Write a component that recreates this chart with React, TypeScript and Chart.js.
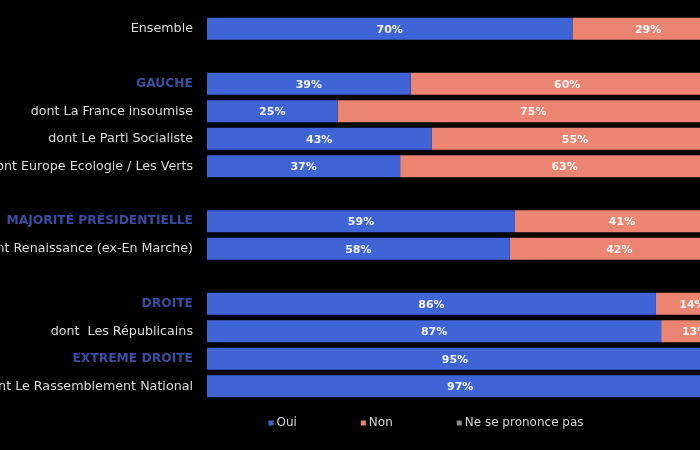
import React, { useEffect, useRef } from "react";
import { Chart, registerables } from "chart.js";

Chart.register(...registerables);

const categories = [
  "Ensemble",
  "",
  "GAUCHE",
  "dont La France insoumise",
  "dont Le Parti Socialiste",
  "dont Europe Ecologie / Les Verts",
  "",
  "MAJORITÉ PRÉSIDENTIELLE",
  "dont Renaissance (ex-En Marche)",
  "",
  "DROITE",
  "dont  Les Républicains",
  "EXTREME DROITE",
  "dont Le Rassemblement National",
];
const headerRows = ["GAUCHE", "MAJORITÉ PRÉSIDENTIELLE", "DROITE", "EXTREME DROITE"];

const oui = [70, null, 39, 25, 43, 37, null, 59, 58, null, 86, 87, 95, 97];
const non = [29, null, 60, 75, 55, 63, null, 41, 42, null, 14, 13, 5, 3];
const nsp = [1, null, 1, 0, 2, 0, null, 0, 0, null, 0, 0, 0, 0];

const seriesNames = ["Oui", "Non", "Ne se prononce pas"];
const seriesColors = ["#3f64d6", "#ec8472", "#8a8a8a"];

const FONT = '"DejaVu Sans", "Noto Sans", sans-serif';

const bgPlugin = {
  id: "bg",
  beforeDraw(chart: any) {
    const ctx = chart.ctx;
    ctx.save();
    ctx.fillStyle = "#000";
    ctx.fillRect(0, 0, chart.width, chart.height);
    ctx.restore();
  },
};

const valueLabels = {
  id: "valueLabels",
  afterDatasetsDraw(chart: any) {
    const ctx = chart.ctx;
    ctx.save();
    ctx.font = `bold 11px ${FONT}`;
    ctx.fillStyle = "#f4f4f4";
    ctx.textAlign = "center";
    ctx.textBaseline = "middle";
    chart.data.datasets.forEach((ds: any, di: number) => {
      const meta = chart.getDatasetMeta(di);
      meta.data.forEach((el: any, i: number) => {
        const v = ds.data[i];
        if (v == null || v < 3) return;
        const { x, y, base } = el.getProps(["x", "y", "base"], true);
        ctx.fillText(`${v}%`, (x + base) / 2, y + 1);
      });
    });
    ctx.restore();
  },
};

const LEGEND_CENTER_X = 426;
const LEGEND_Y = 423;

const customLegend = {
  id: "customLegend",
  afterDraw(chart: any) {
    const ctx = chart.ctx;
    ctx.save();
    ctx.font = `12px ${FONT}`;
    ctx.textBaseline = "middle";
    const box = 5;
    const gapText = 3;
    const gapItems = 64;
    const items = chart.data.datasets.map((ds: any) => ({ text: ds.label, color: ds.backgroundColor }));
    const widths = items.map((it: any) => box + gapText + ctx.measureText(it.text).width);
    const total = widths.reduce((a: number, b: number) => a + b, 0) + gapItems * (items.length - 1);
    let x = LEGEND_CENTER_X - total / 2;
    items.forEach((it: any, i: number) => {
      ctx.fillStyle = it.color;
      ctx.fillRect(x, LEGEND_Y - box / 2, box, box);
      ctx.fillStyle = "#d6d6d6";
      ctx.fillText(it.text, x + box + gapText, LEGEND_Y);
      x += widths[i] + gapItems;
    });
    ctx.restore();
  },
};

export default function App() {
  const ref = useRef<HTMLCanvasElement | null>(null);

  useEffect(() => {
    if (!ref.current) return;
    const chart = new Chart(ref.current, {
      type: "bar",
      data: {
        labels: categories,
        datasets: [oui, non, nsp].map((d, i) => ({
          label: seriesNames[i],
          data: d,
          backgroundColor: seriesColors[i],
          borderWidth: 0,
          categoryPercentage: 0.9,
          barPercentage: 0.89,
        })),
      },
      options: {
        indexAxis: "y",
        responsive: false,
        animation: false,
        layout: { padding: { left: 0, right: 31, top: 15, bottom: 50 } },
        plugins: {
          legend: { display: false },
          tooltip: { enabled: false },
        },
        scales: {
          x: {
            stacked: true,
            min: 0,
            max: 100,
            display: false,
          },
          y: {
            stacked: true,
            grid: { display: false, drawTicks: false },
            border: { display: false },
            afterFit(scale: any) {
              scale.width = 207;
              scale.paddingTop = 0;
              scale.paddingBottom = 0;
            },
            ticks: {
              padding: 14,
              autoSkip: false,
              color: (c: any) =>
                headerRows.includes(categories[c.index]) ? "#3a4da0" : "#dcdcdc",
              font: (c: any) =>
                headerRows.includes(categories[c.index])
                  ? { family: FONT, size: 12.3, weight: "bold" }
                  : { family: FONT, size: 12.7, weight: "normal" },
            },
          },
        },
      } as any,
      plugins: [bgPlugin, valueLabels, customLegend],
    });
    return () => chart.destroy();
  }, []);

  return (
    <div
      style={{
        position: "fixed",
        left: 0,
        top: 0,
        width: 700,
        height: 450,
        overflow: "hidden",
        background: "#000",
      }}
    >
      <canvas ref={ref} width={760} height={450} style={{ display: "block" }} />
    </div>
  );
}
